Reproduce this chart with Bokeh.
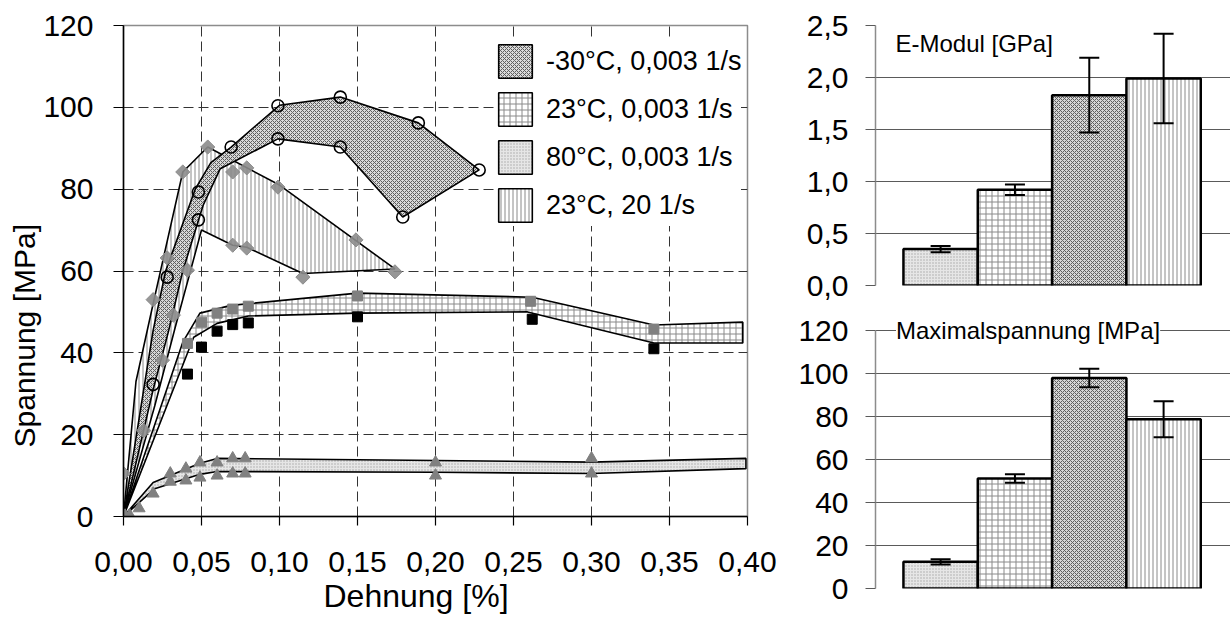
import numpy as np
from bokeh.plotting import figure
from bokeh.models import (Range1d, FixedTicker, CustomJSTickFormatter, Legend, LegendItem,
                          ColumnDataSource, Whisker, TeeHead, Label, Title)
from bokeh.layouts import row, column
from bokeh.embed import file_html
from bokeh.resources import INLINE

FONT = "Liberation Sans"

# ---------------- data: stress-strain bands ----------------
conditions = ["-30°C, 0,003 1/s", "23°C, 0,003 1/s", "80°C, 0,003 1/s", "23°C, 20 1/s"]

# -30°C, 0,003 1/s
m30_up_x = [0, 0.019, 0.027, 0.046, 0.056, 0.069, 0.100, 0.139, 0.189, 0.228]
m30_up_y = [0, 45.5, 60.0, 80.0, 86.5, 90.3, 100.5, 102.5, 96.2, 84.7]
m30_lo_x = [0, 0.019, 0.029, 0.038, 0.051, 0.062, 0.099, 0.139, 0.179, 0.228]
m30_lo_y = [0, 31.0, 45.5, 60.0, 76.0, 85.0, 92.3, 90.3, 73.2, 84.7]

# 23°C, 0,003 1/s
r23_up_x = [0, 0.038, 0.049, 0.069, 0.150, 0.262, 0.340, 0.397]
r23_up_y = [0, 42.6, 49.7, 51.6, 54.6, 53.6, 46.8, 47.5]
r23_lo_x = [0, 0.045, 0.060, 0.080, 0.150, 0.259, 0.340, 0.397]
r23_lo_y = [0, 43.8, 47.2, 49.0, 49.7, 50.0, 42.4, 42.4]

# 80°C, 0,003 1/s
h80_up_x = [0, 0.019, 0.049, 0.060, 0.200, 0.300, 0.399]
h80_up_y = [0, 8.3, 13.0, 14.2, 13.7, 13.3, 14.2]
h80_lo_x = [0, 0.020, 0.049, 0.060, 0.200, 0.300, 0.399]
h80_lo_y = [0, 6.8, 10.3, 11.0, 10.8, 10.5, 11.7]

# 23°C, 20 1/s
d23_up_x = [0, 0.008, 0.019, 0.038, 0.054, 0.100, 0.174]
d23_up_y = [0, 33.0, 52.0, 84.2, 90.3, 81.0, 60.5]
d23_lo_x = [0, 0.020, 0.033, 0.050, 0.070, 0.079, 0.115, 0.174]
d23_lo_y = [0, 27.0, 46.0, 70.0, 66.3, 65.8, 59.4, 60.5]

# measured points
circ_x = [0.019, 0.028, 0.048, 0.048, 0.069, 0.099, 0.099, 0.139, 0.139, 0.189, 0.179, 0.228]
circ_y = [32.3, 58.5, 72.5, 79.3, 90.3, 100.4, 92.3, 102.5, 90.3, 96.2, 73.2, 84.7]

sq_gray_x = [0.041, 0.050, 0.060, 0.070, 0.080, 0.150, 0.261, 0.340]
sq_gray_y = [42.3, 47.5, 49.7, 50.7, 51.4, 53.9, 52.6, 45.8]
sq_black_x = [0.041, 0.050, 0.060, 0.070, 0.080, 0.150, 0.262, 0.340]
sq_black_y = [34.8, 41.4, 45.3, 46.9, 47.3, 48.8, 48.2, 41.0]

tri_x = [0.001, 0.004, 0.010, 0.019, 0.030, 0.030, 0.040, 0.040, 0.049, 0.049,
         0.060, 0.060, 0.070, 0.070, 0.078, 0.078, 0.200, 0.200, 0.300, 0.300]
tri_y = [0.2, 0.3, 2.0, 5.6, 10.5, 8.5, 11.7, 8.8, 13.2, 9.5,
         13.2, 10.0, 14.2, 10.5, 14.2, 10.5, 13.2, 10.0, 14.2, 10.5]

dia_x = [0.000, 0.013, 0.019, 0.025, 0.028, 0.032, 0.038, 0.041, 0.054, 0.070, 0.079,
         0.070, 0.079, 0.099, 0.115, 0.149, 0.174]
dia_y = [10.5, 21.0, 53.0, 38.2, 63.2, 49.2, 84.2, 60.2, 90.3, 84.2, 85.2,
         66.3, 65.6, 80.5, 58.5, 67.6, 59.8]

x_ticks = [0, 0.05, 0.10, 0.15, 0.20, 0.25, 0.30, 0.35, 0.40]
y_ticks = [0, 20, 40, 60, 80, 100, 120]

# ---------------- data: bar charts ----------------
bar_order = ["80°C, 0,003 1/s", "23°C, 0,003 1/s", "-30°C, 0,003 1/s", "23°C, 20 1/s"]
emod = [0.35, 0.92, 1.83, 1.99]
emod_err = [0.03, 0.05, 0.36, 0.43]
smax = [12.4, 51.2, 98.0, 78.8]
smax_err = [1.2, 2.0, 4.3, 8.4]
emod_ticks = [0, 0.5, 1.0, 1.5, 2.0, 2.5]
smax_ticks = [0, 20, 40, 60, 80, 100, 120]

# ---------------- styles ----------------
styles = {
    "-30°C, 0,003 1/s": dict(fill_color="#d6d6d6", fill_alpha=0.9, hatch_pattern="diagonal_cross",
                             hatch_scale=4, hatch_color="#5e5e5e", hatch_weight=1.0),
    "23°C, 0,003 1/s": dict(fill_color="white", fill_alpha=1.0, hatch_pattern="cross",
                            hatch_scale=6, hatch_color="#8a8a8a", hatch_weight=1),
    "80°C, 0,003 1/s": dict(fill_color="#e6e6e6", fill_alpha=1.0, hatch_pattern="dot",
                            hatch_scale=3, hatch_color="#a8a8a8", hatch_weight=1),
    "23°C, 20 1/s": dict(fill_color="white", fill_alpha=1.0, hatch_pattern="vertical_line",
                         hatch_scale=4, hatch_color="#8a8a8a", hatch_weight=1),
}

bands = {
    "-30°C, 0,003 1/s": (m30_up_x, m30_up_y, m30_lo_x, m30_lo_y),
    "23°C, 0,003 1/s": (r23_up_x, r23_up_y, r23_lo_x, r23_lo_y),
    "80°C, 0,003 1/s": (h80_up_x, h80_up_y, h80_lo_x, h80_lo_y),
    "23°C, 20 1/s": (d23_up_x, d23_up_y, d23_lo_x, d23_lo_y),
}

comma2 = CustomJSTickFormatter(code="return tick.toFixed(2).replace('.', ',');")
int0 = CustomJSTickFormatter(code="return tick.toFixed(0);")
comma1 = CustomJSTickFormatter(code="return tick.toFixed(1).replace('.', ',');")

# ---------------- main figure ----------------
p = figure(width=790, height=617, output_backend="svg", toolbar_location=None,
           x_range=Range1d(0, 0.40), y_range=Range1d(0, 120),
           min_border_left=123, min_border_right=43, min_border_top=25, min_border_bottom=101)
p.background_fill_color = "white"
p.border_fill_color = "white"
p.outline_line_color = "#8c8c8c"
p.outline_line_width = 1.5

for ax, ticks, fmt in ((p.xaxis, x_ticks, comma2), (p.yaxis, y_ticks, int0)):
    ax.ticker = FixedTicker(ticks=ticks)
    ax.formatter = fmt
    ax.major_label_text_font = FONT
    ax.major_label_text_font_size = "30px"
    ax.major_label_text_color = "black"
    ax.axis_line_color = "black"
    ax.axis_line_width = 1.5
    ax.major_tick_line_color = "black"
    ax.major_tick_line_width = 1.2
    ax.major_tick_in = 0
    ax.minor_tick_line_color = None
p.xaxis.major_tick_out = 9
p.yaxis.major_tick_out = 10
p.xaxis.major_label_standoff = 26
p.yaxis.major_label_standoff = 20

for g in (p.xgrid, p.ygrid):
    g.grid_line_color = "#333333"
    g.grid_line_dash = "10 5"
    g.grid_line_width = 1

draw_order = ["80°C, 0,003 1/s", "23°C, 0,003 1/s", "23°C, 20 1/s", "-30°C, 0,003 1/s"]
band_r = {}
for c in draw_order:
    ux, uy, lx, ly = bands[c]
    xs = list(ux) + list(lx)[::-1]
    ys = list(uy) + list(ly)[::-1]
    band_r[c] = p.patch(xs, ys, line_color="black", line_width=1.6, **styles[c])

p.scatter(tri_x, tri_y, marker="triangle", size=12, fill_color="#808080", line_color="#808080")
p.scatter(dia_x, dia_y, marker="square", angle=np.pi / 4, size=10,
          fill_color="#8c8c8c", line_color="#8c8c8c", fill_alpha=0.9)
p.scatter(sq_gray_x, sq_gray_y, marker="square", size=10, fill_color="#808080", line_color="#808080")
p.scatter(sq_black_x, sq_black_y, marker="square", size=10, fill_color="black", line_color="black")
p.scatter(circ_x, circ_y, marker="circle", size=12, fill_color=None, line_color="black", line_width=1.6)

legend = Legend(items=[LegendItem(label=c, renderers=[band_r[c]]) for c in conditions],
                location=(371, 290), glyph_width=42, glyph_height=42, label_height=42,
                spacing=6, padding=12, margin=0, label_standoff=10,
                label_text_font=FONT, label_text_font_size="27px", label_text_color="black",
                background_fill_color="white", background_fill_alpha=1.0,
                border_line_color=None)
p.add_layout(legend)

p.add_layout(Title(text="Spannung [MPa]", align="left", offset=69, standoff=0,
                   text_font=FONT, text_font_size="30px", text_font_style="normal",
                   text_color="black"), "left")
p.add_layout(Title(text="Dehnung [%]", align="left", offset=200, standoff=2,
                   text_font=FONT, text_font_size="32px", text_font_style="normal",
                   text_color="black"), "below")

# ---------------- bar charts ----------------
pos = np.arange(1, len(bar_order) + 1)


def bar_chart(height, top_b, bottom_b, vals, errs, ymax, ytop, ticks, fmt, title, title_xy):
    b = figure(width=440, height=height, output_backend="svg", toolbar_location=None,
               x_range=Range1d(0.124, 4.90), y_range=Range1d(0, ytop),
               min_border_left=85, min_border_right=0, min_border_top=top_b,
               min_border_bottom=bottom_b)
    b.outline_line_color = None
    b.xaxis.visible = False
    b.xgrid.visible = False
    b.ygrid.grid_line_color = "#5a5a5a"
    b.ygrid.grid_line_width = 1
    ax = b.yaxis
    ax.ticker = FixedTicker(ticks=ticks)
    ax.formatter = fmt
    ax.bounds = (0, ymax)
    ax.major_label_text_font = FONT
    ax.major_label_text_font_size = "30px"
    ax.major_label_text_color = "black"
    ax.axis_line_color = "#8c8c8c"
    ax.axis_line_width = 1.5
    ax.major_tick_out = 10
    ax.major_tick_in = 0
    ax.major_tick_line_color = "#5a5a5a"
    ax.minor_tick_line_color = None
    ax.major_label_standoff = 17
    src = ColumnDataSource(dict(
        x=pos, top=vals,
        upper=[v + e for v, e in zip(vals, errs)],
        lower=[v - e for v, e in zip(vals, errs)],
        fill_color=[styles[c]["fill_color"] for c in bar_order],
        hatch_pattern=[styles[c]["hatch_pattern"] for c in bar_order],
        hatch_scale=[styles[c]["hatch_scale"] for c in bar_order],
        hatch_color=[styles[c]["hatch_color"] for c in bar_order],
    ))
    b.vbar(x="x", top="top", bottom=0, width=1.0, source=src, fill_color="fill_color",
           hatch_pattern="hatch_pattern", hatch_scale="hatch_scale", hatch_color="hatch_color",
           hatch_weight=1, line_color="black", line_width=2.5)
    w = Whisker(source=src, base="x", upper="upper", lower="lower",
                line_color="black", line_width=2, level="overlay",
                upper_head=TeeHead(size=20, line_width=2, line_color="black"),
                lower_head=TeeHead(size=20, line_width=2, line_color="black"))
    b.add_layout(w)
    b.add_layout(Label(x=title_xy[0], y=title_xy[1], text=title, text_align="left",
                       text_baseline="middle", text_font=FONT, text_font_size="24px",
                       text_color="black",
                       background_fill_color="white", background_fill_alpha=1.0))
    return b


b1 = bar_chart(300, 25, 15, emod, emod_err, 2.5, 2.5, emod_ticks, comma1,
               "E-Modul [GPa]", (0.393, 2.33))
b2 = bar_chart(317, 13, 29, smax, smax_err, 120, 128, smax_ticks, int0,
               "Maximalspannung [MPa]", (0.40, 120))

layout = row(p, column(b1, b2, spacing=0), spacing=0)
open("out.html", "w").write(file_html(layout, INLINE))
